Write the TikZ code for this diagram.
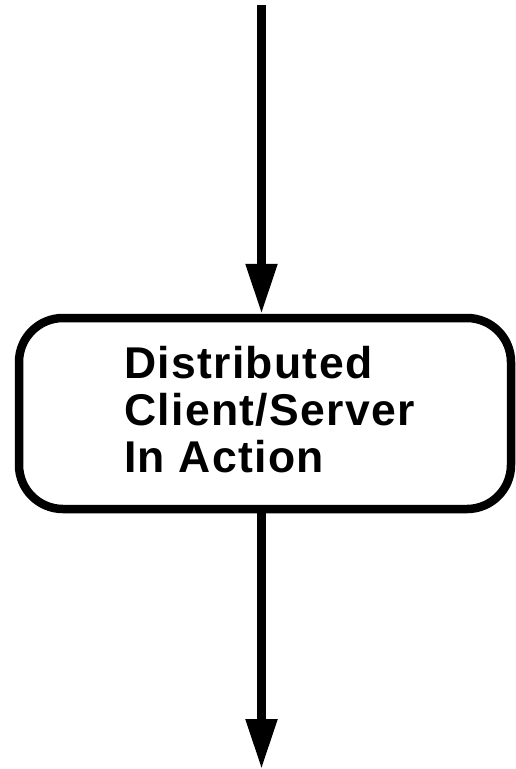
\documentclass[tikz,border=0pt]{standalone}
\usepackage{fontspec}
\setmainfont{Liberation Sans}
\usetikzlibrary{arrows.meta}
\begin{document}
\begin{tikzpicture}[x=1pt,y=-1pt,
  flowbox/.style={draw=black, line width=8.5pt, rounded corners=44pt,
    minimum width=492pt, minimum height=191pt, inner sep=0pt},
  flowtext/.style={font=\fontsize{44.5}{47}\selectfont\bfseries\addfontfeature{LetterSpace=3},
    align=left, inner sep=0pt, anchor=base west},
  flowarrow/.style={line width=8.5pt, -{Triangle[length=50pt,width=30pt]}}]
\useasboundingbox (0,0) rectangle (515,769);
\node[flowbox] (box) at (265,413.5) {};
\node[flowtext] (label) at (124,472) {Distributed\\Client/Server\\In Action};
\coordinate (start) at (261.5,5);
\coordinate (finish) at (261.5,769);
\draw[flowarrow] (start) -- (start |- box.north);
\draw[flowarrow] (start |- box.south) -- (finish);
\end{tikzpicture}
\end{document}
